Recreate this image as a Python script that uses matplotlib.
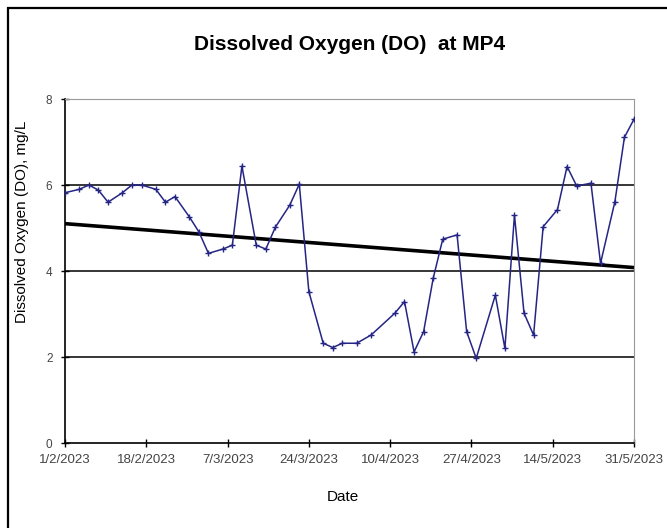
import numpy as np
import pandas as pd
import matplotlib
matplotlib.use("Agg")
import matplotlib.pyplot as plt
import matplotlib.dates as mdates
from matplotlib.patches import Rectangle

plt.rcParams['font.family'] = ['Liberation Sans', 'DejaVu Sans']

# DO readings at MP4
dates = ["2023-02-01", "2023-02-04", "2023-02-06", "2023-02-08", "2023-02-10",
         "2023-02-13", "2023-02-15", "2023-02-17", "2023-02-20", "2023-02-22",
         "2023-02-24", "2023-02-27", "2023-03-01", "2023-03-03", "2023-03-06",
         "2023-03-08", "2023-03-10", "2023-03-13", "2023-03-15", "2023-03-17",
         "2023-03-20", "2023-03-22", "2023-03-24", "2023-03-27", "2023-03-29",
         "2023-03-31", "2023-04-03", "2023-04-06", "2023-04-11", "2023-04-13",
         "2023-04-15", "2023-04-17", "2023-04-19", "2023-04-21", "2023-04-24",
         "2023-04-26", "2023-04-28", "2023-05-02", "2023-05-04", "2023-05-06",
         "2023-05-08", "2023-05-10", "2023-05-12", "2023-05-15", "2023-05-17",
         "2023-05-19", "2023-05-22", "2023-05-24", "2023-05-27", "2023-05-29",
         "2023-05-31"]
do_values = [5.82, 5.90, 6.00, 5.88, 5.60, 5.82, 6.00, 6.00, 5.90, 5.60,
             5.73, 5.26, 4.91, 4.41, 4.51, 4.60, 6.44, 4.60, 4.51, 5.02,
             5.53, 6.02, 3.52, 2.32, 2.22, 2.32, 2.32, 2.51, 3.02, 3.29,
             2.12, 2.59, 3.83, 4.74, 4.84, 2.59, 1.97, 3.44, 2.20, 5.30,
             3.02, 2.51, 5.03, 5.43, 6.43, 5.98, 6.04, 4.18, 5.61, 7.11,
             7.53]
tick_dates = ["2023-02-01", "2023-02-18", "2023-03-07", "2023-03-24",
              "2023-04-10", "2023-04-27", "2023-05-14", "2023-05-31"]
y_ticks = [0, 2, 4, 6, 8]

x = pd.to_datetime(dates)
xn = mdates.date2num(x)
y = np.array(do_values)
ticks = pd.to_datetime(tick_dates)
tn = mdates.date2num(ticks)

# linear trend over the sampling period
slope, intercept = np.polyfit(xn, y, 1)
trend_x = np.array([tn[0], tn[-1]])
trend_y = slope * trend_x + intercept

fig = plt.figure(figsize=(6.67, 5.28), dpi=100)
fig.patches.append(Rectangle((8 / 667, -0.1), 1.2, (528 - 8) / 528 + 0.1,
                             transform=fig.transFigure, fill=False,
                             edgecolor='black', linewidth=1.6))

ax = fig.add_axes([65 / 667, 1 - 443 / 528, (634 - 65) / 667, (443 - 99) / 528])
for yy in y_ticks[1:-1]:
    ax.axhline(yy, color='black', linewidth=1.1, zorder=1)

ax.plot(xn, y, color='#252585', linewidth=1.1, marker='+', markersize=4,
        markeredgewidth=1.0, zorder=3)
ax.plot(trend_x, trend_y, color='black', linewidth=2.6, zorder=2)

ax.set_xlim(tn[0], tn[-1])
ax.set_ylim(0, 8)
ax.set_xticks(tn)
ax.set_xticklabels([f"{d.day}/{d.month}/{d.year}" for d in ticks])
ax.set_yticks(y_ticks)
ax.tick_params(direction='inout', length=6, width=1, colors='black',
               labelcolor='#444444')
ax.tick_params(axis='x', labelsize=9.5, pad=5)
ax.tick_params(axis='y', labelsize=8.5, pad=6)

for side in ['top', 'right']:
    ax.spines[side].set_color('#999999')
for side in ['left', 'bottom']:
    ax.spines[side].set_color('black')
    ax.spines[side].set_linewidth(1.2)

fig.text(350 / 667, 1 - 44 / 528, "Dissolved Oxygen (DO)  at MP4",
         ha='center', va='center', fontsize=15, fontweight='bold')
fig.text(22 / 667, 1 - 222 / 528, "Dissolved Oxygen (DO), mg/L",
         ha='center', va='center', rotation=90, fontsize=11)
fig.text(343 / 667, 1 - 497 / 528, "Date", ha='center', va='center',
         fontsize=11)

fig.savefig("out.png", dpi=100)
